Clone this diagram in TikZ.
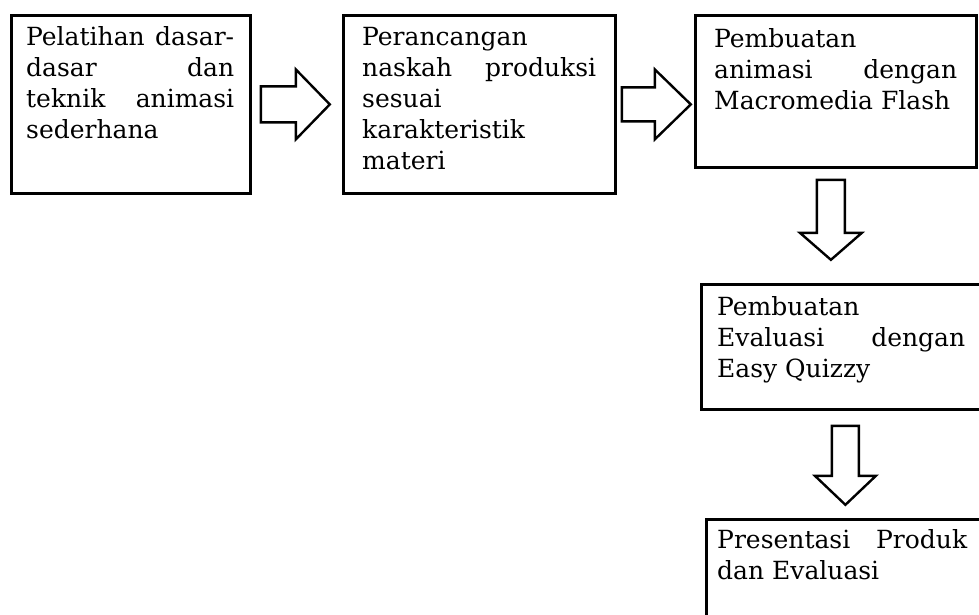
\documentclass[tikz,border=0pt]{standalone}
\usepackage{fontspec}
\setmainfont{DejaVu Serif}
\usetikzlibrary{calc}
\begin{document}
\begin{tikzpicture}[x=1pt,y=-1pt,
  box/.style={draw, line width=2.8pt, anchor=north west, inner sep=0pt},
  txt/.style={anchor=north west, inner sep=0pt, align=justify, font=\fontsize{25}{31}\selectfont},
  blk/.style={draw, line width=2.4pt, fill=white, line join=miter}]
\useasboundingbox (0,0) rectangle (979,614);
\clip (0,0) rectangle (979,614);
% boxes
\node[box, minimum width=239pt, minimum height=178pt] (b1) at (10,14) {};
\node[box, minimum width=272pt, minimum height=178pt] (b2) at (342,14) {};
\node[box, minimum width=281pt, minimum height=152pt] (b3) at (694,14) {};
\node[box, minimum width=300pt, minimum height=125pt] (b4) at (700,283) {};
\node[box, minimum width=300pt, minimum height=130pt] (b5) at (705,518) {};
% texts
\node[txt, text width=208pt] (t1) at ($(b1.north west)+(16,9.3)$)
  {\noindent\strut Pelatihan\hfill dasar-\\dasar\hfill dan\\teknik\hfill animasi\\sederhana};
\node[txt, text width=234pt] (t2) at ($(b2.north west)+(20,9.3)$)
  {\noindent\strut Perancangan\\naskah\hfill produksi\\sesuai\\karakteristik\\materi};
\node[txt, text width=243pt] (t3) at ($(b3.north west)+(20,11.3)$)
  {\noindent\strut Pembuatan\\animasi\hfill dengan\\Macromedia Flash};
\node[txt, text width=248pt] (t4) at ($(b4.north west)+(17,10.3)$)
  {\noindent\strut Pembuatan\\Evaluasi\hfill dengan\\Easy Quizzy};
\node[txt, text width=250pt] (t5) at ($(b5.north west)+(12,8.3)$)
  {\noindent\strut Presentasi\hfill Produk\\dan Evaluasi};
% block arrows
\draw[blk] ($(b1.east)+(9,-18)$) -- ++(35,0) -- ++(0,-17) -- ++(34,35)
  -- ++(-34,35) -- ++(0,-17) -- ++(-35,0) -- cycle;
\draw[blk] ($(b2.east)+(5,-17)$) -- ++(33,0) -- ++(0,-18) -- ++(36,35)
  -- ++(-36,35) -- ++(0,-18) -- ++(-33,0) -- cycle;
\draw[blk] ($(b3.south)+(-19,11)$) -- ++(28,0) -- ++(0,53) -- ++(17,0)
  -- ++(-31,27) -- ++(-31,-27) -- ++(17,0) -- cycle;
\draw[blk] ($(b4.south)+(-19.5,15)$) -- ++(27,0) -- ++(0,50) -- ++(17,0)
  -- ++(-30.5,29) -- ++(-30.5,-29) -- ++(17,0) -- cycle;
\end{tikzpicture}
\end{document}
